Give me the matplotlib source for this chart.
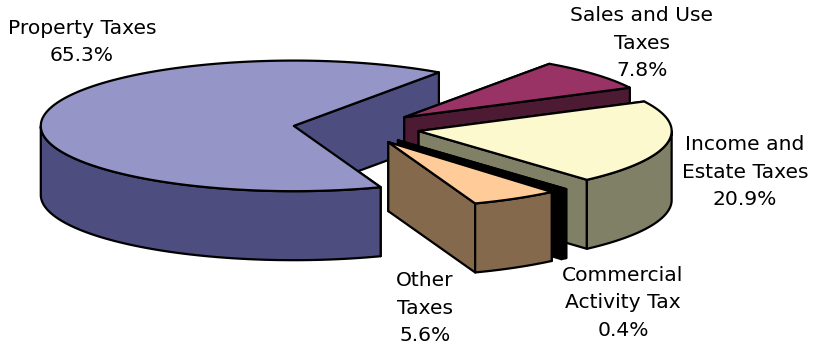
"""Exploded 3-D style pie of tax revenue shares, drawn in pixel coordinates."""
import numpy as np
import matplotlib
matplotlib.use("Agg")
import matplotlib.pyplot as plt

names = ["Property Taxes", "Sales and Use\nTaxes", "Income and\nEstate Taxes",
         "Commercial\nActivity Tax", "Other\nTaxes"]
shares = [65.3, 7.8, 20.9, 0.4, 5.6]

top_colors = ["#9595C7", "#993366", "#FDF9CE", "#000000", "#FFCC99"]
side_colors = ["#4D4D80", "#4D1A33", "#808066", "#000000", "#85694D"]
label_xy = [(82, 42), (642, 43), (745, 172), (623, 303), (425, 308)]

# pie geometry: ellipse radii, depth of the disc, explosion fraction
CX, CY = 356.5, 128.0
RX, RY = 253.0, 65.3
DEPTH = 69.0
EXPLODE = 0.25
START = 55.0 + 235.08  # first slice runs counter-clockwise up to 55 deg


def ring(apex, deg):
    t = np.radians(deg)
    return apex[0] + RX * np.cos(t), apex[1] - RY * np.sin(t)


def draw_slice(ax, t_from, t_to, top, side):
    """One slice going clockwise from t_from down to t_to (degrees)."""
    mid = np.radians((t_from + t_to) / 2)
    apex = (CX + EXPLODE * RX * np.cos(mid), CY - EXPLODE * RY * np.sin(mid))
    style = dict(edgecolor="black", linewidth=1.6, joinstyle="round")

    # cut faces, hidden parts get painted over by the rim and the top
    for t in (t_from, t_to):
        x, y = ring(apex, t)
        ax.fill([apex[0], x, x, apex[0]], [apex[1], y, y + DEPTH, apex[1] + DEPTH],
                facecolor=side, **style)

    # outer rim only where it faces the viewer
    deg = np.linspace(t_to, t_from, 400)
    wrapped = np.sin(np.radians(deg)) <= 0
    if wrapped.any():
        xs, ys = ring(apex, deg[wrapped])
        ax.fill(np.r_[xs, xs[::-1]], np.r_[ys, ys[::-1] + DEPTH], facecolor=side, **style)

    xs, ys = ring(apex, deg)
    ax.fill(np.r_[apex[0], xs], np.r_[apex[1], ys], facecolor=top, **style)


fig = plt.figure(figsize=(8.16, 3.47), dpi=100)
ax = fig.add_axes([0, 0, 1, 1])
ax.set_xlim(0, 816)
ax.set_ylim(347, 0)
ax.axis("off")

sweeps = np.array(shares) / sum(shares) * 360.0
angle = START
for share, sweep, top, side in zip(shares, sweeps, top_colors, side_colors):
    draw_slice(ax, angle, angle - sweep, top, side)
    angle -= sweep

for name, share, (x, y) in zip(names, shares, label_xy):
    ax.text(x, y, f"{name}\n{share:.1f}%", ha="center", va="center", fontsize=14.6,
            family="DejaVu Sans", color="#000000", linespacing=1.57)

fig.savefig("out.png", dpi=100)
